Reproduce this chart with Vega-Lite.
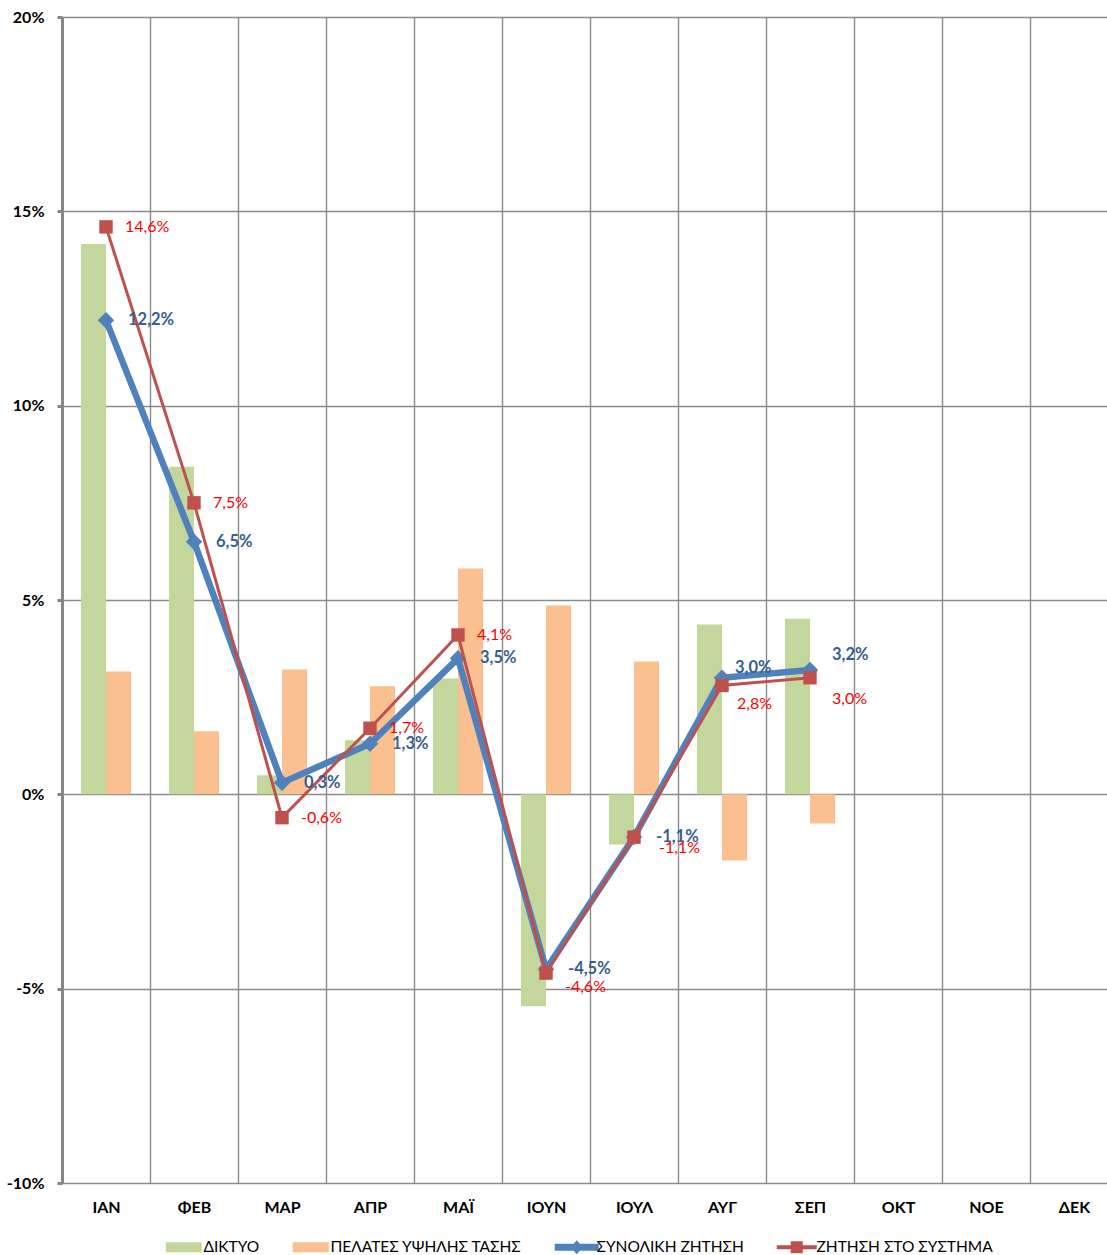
{
  "$schema": "https://vega.github.io/schema/vega-lite/v6.json",
  "width": 1045,
  "height": 1166,
  "autosize": "none",
  "padding": {"left": 62, "top": 17, "right": 0, "bottom": 72},
  "background": "white",
  "config": {
    "locale": {"number": {"decimal": ",", "thousands": ".", "grouping": [3], "currency": ["", " €"], "minus": "-"}},
    "view": {"stroke": null},
    "font": "Lato",
    "legend": {"layout": {"bottom": {"anchor": "middle"}}}
  },
  "datasets": {
    "bars": [
      {"month": "ΙΑΝ", "series": "ΔΙΚΤΥΟ", "value": 0.1416},
      {"month": "ΙΑΝ", "series": "ΠΕΛΑΤΕΣ ΥΨΗΛΗΣ ΤΑΣΗΣ", "value": 0.0316},
      {"month": "ΦΕΒ", "series": "ΔΙΚΤΥΟ", "value": 0.0843},
      {"month": "ΦΕΒ", "series": "ΠΕΛΑΤΕΣ ΥΨΗΛΗΣ ΤΑΣΗΣ", "value": 0.0162},
      {"month": "ΜΑΡ", "series": "ΔΙΚΤΥΟ", "value": 0.0049},
      {"month": "ΜΑΡ", "series": "ΠΕΛΑΤΕΣ ΥΨΗΛΗΣ ΤΑΣΗΣ", "value": 0.0321},
      {"month": "ΑΠΡ", "series": "ΔΙΚΤΥΟ", "value": 0.0139},
      {"month": "ΑΠΡ", "series": "ΠΕΛΑΤΕΣ ΥΨΗΛΗΣ ΤΑΣΗΣ", "value": 0.0278},
      {"month": "ΜΑΪ", "series": "ΔΙΚΤΥΟ", "value": 0.0298},
      {"month": "ΜΑΪ", "series": "ΠΕΛΑΤΕΣ ΥΨΗΛΗΣ ΤΑΣΗΣ", "value": 0.0581},
      {"month": "ΙΟΥΝ", "series": "ΔΙΚΤΥΟ", "value": -0.0545},
      {"month": "ΙΟΥΝ", "series": "ΠΕΛΑΤΕΣ ΥΨΗΛΗΣ ΤΑΣΗΣ", "value": 0.0486},
      {"month": "ΙΟΥΛ", "series": "ΔΙΚΤΥΟ", "value": -0.0129},
      {"month": "ΙΟΥΛ", "series": "ΠΕΛΑΤΕΣ ΥΨΗΛΗΣ ΤΑΣΗΣ", "value": 0.0342},
      {"month": "ΑΥΓ", "series": "ΔΙΚΤΥΟ", "value": 0.0437},
      {"month": "ΑΥΓ", "series": "ΠΕΛΑΤΕΣ ΥΨΗΛΗΣ ΤΑΣΗΣ", "value": -0.0170},
      {"month": "ΣΕΠ", "series": "ΔΙΚΤΥΟ", "value": 0.0452},
      {"month": "ΣΕΠ", "series": "ΠΕΛΑΤΕΣ ΥΨΗΛΗΣ ΤΑΣΗΣ", "value": -0.0075}
    ],
    "lines": [
      {"month": "ΙΑΝ", "series": "ΣΥΝΟΛΙΚΗ ΖΗΤΗΣΗ", "value": 0.122},
      {"month": "ΦΕΒ", "series": "ΣΥΝΟΛΙΚΗ ΖΗΤΗΣΗ", "value": 0.065},
      {"month": "ΜΑΡ", "series": "ΣΥΝΟΛΙΚΗ ΖΗΤΗΣΗ", "value": 0.003},
      {"month": "ΑΠΡ", "series": "ΣΥΝΟΛΙΚΗ ΖΗΤΗΣΗ", "value": 0.013},
      {"month": "ΜΑΪ", "series": "ΣΥΝΟΛΙΚΗ ΖΗΤΗΣΗ", "value": 0.035},
      {"month": "ΙΟΥΝ", "series": "ΣΥΝΟΛΙΚΗ ΖΗΤΗΣΗ", "value": -0.045},
      {"month": "ΙΟΥΛ", "series": "ΣΥΝΟΛΙΚΗ ΖΗΤΗΣΗ", "value": -0.011},
      {"month": "ΑΥΓ", "series": "ΣΥΝΟΛΙΚΗ ΖΗΤΗΣΗ", "value": 0.030},
      {"month": "ΣΕΠ", "series": "ΣΥΝΟΛΙΚΗ ΖΗΤΗΣΗ", "value": 0.032},
      {"month": "ΙΑΝ", "series": "ΖΗΤΗΣΗ ΣΤΟ ΣΥΣΤΗΜΑ", "value": 0.146},
      {"month": "ΦΕΒ", "series": "ΖΗΤΗΣΗ ΣΤΟ ΣΥΣΤΗΜΑ", "value": 0.075},
      {"month": "ΜΑΡ", "series": "ΖΗΤΗΣΗ ΣΤΟ ΣΥΣΤΗΜΑ", "value": -0.006},
      {"month": "ΑΠΡ", "series": "ΖΗΤΗΣΗ ΣΤΟ ΣΥΣΤΗΜΑ", "value": 0.017},
      {"month": "ΜΑΪ", "series": "ΖΗΤΗΣΗ ΣΤΟ ΣΥΣΤΗΜΑ", "value": 0.041},
      {"month": "ΙΟΥΝ", "series": "ΖΗΤΗΣΗ ΣΤΟ ΣΥΣΤΗΜΑ", "value": -0.046},
      {"month": "ΙΟΥΛ", "series": "ΖΗΤΗΣΗ ΣΤΟ ΣΥΣΤΗΜΑ", "value": -0.011},
      {"month": "ΑΥΓ", "series": "ΖΗΤΗΣΗ ΣΤΟ ΣΥΣΤΗΜΑ", "value": 0.028},
      {"month": "ΣΕΠ", "series": "ΖΗΤΗΣΗ ΣΤΟ ΣΥΣΤΗΜΑ", "value": 0.030}
    ],
    "months": [
      {"month": "ΙΑΝ"}, {"month": "ΦΕΒ"}, {"month": "ΜΑΡ"}, {"month": "ΑΠΡ"},
      {"month": "ΜΑΪ"}, {"month": "ΙΟΥΝ"}, {"month": "ΙΟΥΛ"}, {"month": "ΑΥΓ"},
      {"month": "ΣΕΠ"}, {"month": "ΟΚΤ"}, {"month": "ΝΟΕ"}, {"month": "ΔΕΚ"}
    ]
  },
  "encoding": {
    "x": {
      "field": "month", "type": "nominal", "sort": null,
      "scale": {
        "domain": ["ΙΑΝ", "ΦΕΒ", "ΜΑΡ", "ΑΠΡ", "ΜΑΪ", "ΙΟΥΝ", "ΙΟΥΛ", "ΑΥΓ", "ΣΕΠ", "ΟΚΤ", "ΝΟΕ", "ΔΕΚ"],
        "range": [0, 1056], "paddingInner": 0, "paddingOuter": 0
      },
      "axis": {
        "title": null, "labelFont": "Lato", "labelFontWeight": "bold", "labelFontSize": 16,
        "labelColor": "#000000", "labelAngle": 0, "ticks": false, "tickSize": 0, "domain": false,
        "labelPadding": 16, "grid": true, "gridColor": "#8A8A8A", "gridWidth": 1.4, "tickBand": "extent"
      }
    },
    "y": {
      "field": "value", "type": "quantitative",
      "scale": {"domain": [-0.1, 0.2], "nice": false, "zero": false},
      "axis": {
        "title": null, "format": ".0%", "values": [-0.1, -0.05, 0, 0.05, 0.1, 0.15, 0.2],
        "labelFont": "Lato", "labelFontWeight": "bold", "labelFontSize": 16, "labelColor": "#000000",
        "domainColor": "#868686", "domainWidth": 3, "tickColor": "#868686", "tickWidth": 3, "tickSize": 5,
        "labelPadding": 13, "grid": true, "gridColor": "#8A8A8A", "gridWidth": 1.4
      }
    }
  },
  "layer": [
    {
      "data": {"name": "bars"},
      "mark": {"type": "bar"},
      "encoding": {
        "xOffset": {"field": "series", "type": "nominal", "scale": {"domain": ["ΔΙΚΤΥΟ", "ΠΕΛΑΤΕΣ ΥΨΗΛΗΣ ΤΑΣΗΣ"], "paddingInner": 0, "paddingOuter": 0.76}},
        "color": {
          "field": "series", "type": "nominal",
          "scale": {
            "domain": ["ΔΙΚΤΥΟ", "ΠΕΛΑΤΕΣ ΥΨΗΛΗΣ ΤΑΣΗΣ", "ΣΥΝΟΛΙΚΗ ΖΗΤΗΣΗ", "ΖΗΤΗΣΗ ΣΤΟ ΣΥΣΤΗΜΑ"],
            "range": ["#C3D69B", "#FAC090", "#4F81BD", "#C0504D"]
          },
          "legend": {
            "title": null, "orient": "bottom", "direction": "horizontal", "offset": 24,
            "labelFont": "Lato", "labelFontSize": 15.5, "labelColor": "#000000", "labelLimit": 500,
            "symbolSize": 100, "labelOffset": 12, "columnPadding": 32,
            "encode": {
              "symbols": {
                "update": {
                  "shape": {"signal": "datum.value == 'ΣΥΝΟΛΙΚΗ ΖΗΤΗΣΗ' ? 'M-4.4,-0.7H4.4V0.7H-4.4Z M0,-1.4L1.2,0L0,1.4L-1.2,0Z' : (datum.value == 'ΖΗΤΗΣΗ ΣΤΟ ΣΥΣΤΗΜΑ' ? 'M-4,-0.4H4V0.4H-4Z M-1.2,-1.2H1.2V1.2H-1.2Z' : 'M-3.6,-1H3.6V1H-3.6Z')"},
                  "fill": {"signal": "scale('color', datum.value)"},
                  "stroke": {"value": "transparent"},
                  "strokeWidth": {"value": 0},
                  "opacity": {"value": 1}
                }
              }
            }
          }
        }
      }
    },
    {
      "data": {"values": [{}]},
      "mark": {"type": "rule", "color": "#868686", "strokeWidth": 4},
      "encoding": {"x": null, "y": {"datum": 0, "type": "quantitative"}}
    },
    {
      "data": {"name": "months"},
      "mark": {"type": "point", "shape": "square", "size": 49, "filled": true, "color": "#868686", "opacity": 1},
      "encoding": {"x": {"field": "month", "type": "nominal", "bandPosition": 0}, "y": {"datum": 0, "type": "quantitative"}}
    },
    {
      "data": {"name": "lines"},
      "transform": [{"filter": "datum.series == 'ΣΥΝΟΛΙΚΗ ΖΗΤΗΣΗ'"}],
      "mark": {"type": "line", "strokeWidth": 6.5},
      "encoding": {"color": {"field": "series", "type": "nominal"}}
    },
    {
      "data": {"name": "lines"},
      "transform": [{"filter": "datum.series == 'ΣΥΝΟΛΙΚΗ ΖΗΤΗΣΗ'"}],
      "mark": {"type": "point", "shape": "diamond", "size": 270, "filled": true, "opacity": 1},
      "encoding": {"color": {"field": "series", "type": "nominal"}}
    },
    {
      "data": {"name": "lines"},
      "transform": [{"filter": "datum.series == 'ΖΗΤΗΣΗ ΣΤΟ ΣΥΣΤΗΜΑ'"}],
      "mark": {"type": "line", "strokeWidth": 3},
      "encoding": {"color": {"field": "series", "type": "nominal"}}
    },
    {
      "data": {"name": "lines"},
      "transform": [{"filter": "datum.series == 'ΖΗΤΗΣΗ ΣΤΟ ΣΥΣΤΗΜΑ'"}],
      "mark": {"type": "point", "shape": "square", "size": 180, "filled": true, "opacity": 1},
      "encoding": {"color": {"field": "series", "type": "nominal"}}
    },
    {
      "data": {"name": "lines"},
      "transform": [{"filter": "datum.series == 'ΣΥΝΟΛΙΚΗ ΖΗΤΗΣΗ' && indexof(['ΑΥΓ','ΣΕΠ'], datum.month) < 0"}],
      "mark": {"type": "text", "align": "left", "baseline": "middle", "dx": 22, "dy": 0, "font": "Lato", "fontSize": 16.5, "fontWeight": "bold", "color": "#376092"},
      "encoding": {"text": {"field": "value", "type": "quantitative", "format": ".1%"}}
    },
    {
      "data": {"name": "lines"},
      "transform": [{"filter": "datum.series == 'ΣΥΝΟΛΙΚΗ ΖΗΤΗΣΗ' && datum.month == 'ΑΥΓ'"}],
      "mark": {"type": "text", "align": "left", "baseline": "middle", "dx": 13, "dy": -10, "font": "Lato", "fontSize": 16.5, "fontWeight": "bold", "color": "#376092"},
      "encoding": {"text": {"field": "value", "type": "quantitative", "format": ".1%"}}
    },
    {
      "data": {"name": "lines"},
      "transform": [{"filter": "datum.series == 'ΣΥΝΟΛΙΚΗ ΖΗΤΗΣΗ' && datum.month == 'ΣΕΠ'"}],
      "mark": {"type": "text", "align": "left", "baseline": "middle", "dx": 22, "dy": -15, "font": "Lato", "fontSize": 16.5, "fontWeight": "bold", "color": "#376092"},
      "encoding": {"text": {"field": "value", "type": "quantitative", "format": ".1%"}}
    },
    {
      "data": {"name": "lines"},
      "transform": [{"filter": "datum.series == 'ΖΗΤΗΣΗ ΣΤΟ ΣΥΣΤΗΜΑ' && indexof(['ΙΟΥΝ','ΙΟΥΛ','ΑΥΓ','ΣΕΠ'], datum.month) < 0"}],
      "mark": {"type": "text", "align": "left", "baseline": "middle", "dx": 19, "dy": 0, "font": "Lato", "fontSize": 16, "color": "#FF0000"},
      "encoding": {"text": {"field": "value", "type": "quantitative", "format": ".1%"}}
    },
    {
      "data": {"name": "lines"},
      "transform": [{"filter": "datum.series == 'ΖΗΤΗΣΗ ΣΤΟ ΣΥΣΤΗΜΑ' && datum.month == 'ΙΟΥΝ'"}],
      "mark": {"type": "text", "align": "left", "baseline": "middle", "dx": 19, "dy": 14, "font": "Lato", "fontSize": 16, "color": "#FF0000"},
      "encoding": {"text": {"field": "value", "type": "quantitative", "format": ".1%"}}
    },
    {
      "data": {"name": "lines"},
      "transform": [{"filter": "datum.series == 'ΖΗΤΗΣΗ ΣΤΟ ΣΥΣΤΗΜΑ' && datum.month == 'ΙΟΥΛ'"}],
      "mark": {"type": "text", "align": "left", "baseline": "middle", "dx": 25, "dy": 11, "font": "Lato", "fontSize": 16, "color": "#FF0000"},
      "encoding": {"text": {"field": "value", "type": "quantitative", "format": ".1%"}}
    },
    {
      "data": {"name": "lines"},
      "transform": [{"filter": "datum.series == 'ΖΗΤΗΣΗ ΣΤΟ ΣΥΣΤΗΜΑ' && datum.month == 'ΑΥΓ'"}],
      "mark": {"type": "text", "align": "left", "baseline": "middle", "dx": 15, "dy": 18, "font": "Lato", "fontSize": 16, "color": "#FF0000"},
      "encoding": {"text": {"field": "value", "type": "quantitative", "format": ".1%"}}
    },
    {
      "data": {"name": "lines"},
      "transform": [{"filter": "datum.series == 'ΖΗΤΗΣΗ ΣΤΟ ΣΥΣΤΗΜΑ' && datum.month == 'ΣΕΠ'"}],
      "mark": {"type": "text", "align": "left", "baseline": "middle", "dx": 22, "dy": 21, "font": "Lato", "fontSize": 16, "color": "#FF0000"},
      "encoding": {"text": {"field": "value", "type": "quantitative", "format": ".1%"}}
    }
  ]
}
